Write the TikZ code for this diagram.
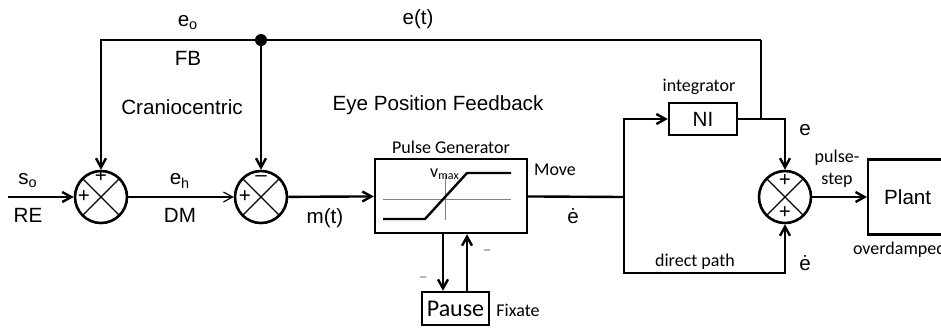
\documentclass[tikz,border=0pt]{standalone}
\usepackage{fontspec}
\setmainfont{Liberation Sans}
\newfontfamily\calibri{Carlito}
\usetikzlibrary{arrows.meta}

\tikzset{
  sumnode/.style={circle,draw,line width=1.3pt,minimum size=26pt,inner sep=0pt,
    path picture={\draw[line width=0.6pt]
      (path picture bounding box.north west) -- (path picture bounding box.south east)
      (path picture bounding box.north east) -- (path picture bounding box.south west);}},
  blockbox/.style={draw,line width=1.2pt,inner sep=0pt},
  sig/.style={line width=1.2pt},
  note/.style={font=\calibri\fontsize{9}{10}\selectfont},
}

\begin{document}
\begin{tikzpicture}[x=0.5pt,y=-0.5pt,font=\fontsize{10.3}{12}\selectfont,
    >={Straight Barb[length=4.5pt,width=5pt]}]
  \useasboundingbox (0,0) rectangle (941,329);
  % summing points
  \node[sumnode] (sA) at (101,197) {};
  \node[sumnode] (sB) at (261,197) {};
  \node[sumnode] (sC) at (785,197) {};
  \node (sAtop) at ([yshift=10pt]sA.center) {+};
  \node (sAleft) at ([xshift=-8.5pt]sA.center) {+};
  \node (sBtop) at ([yshift=9pt]sB.center) {\textendash};
  \node (sBleft) at ([xshift=-8pt]sB.center) {+};
  \node (sCtop) at ([yshift=8pt]sC.center) {+};
  \node (sCbot) at ([yshift=-8pt]sC.center) {+};
  % blocks
  \node[blockbox,minimum width=76pt,minimum height=37pt] (pg) at (451,196) {};
  \node[blockbox,minimum width=33.5pt,minimum height=16.5pt,
    font=\calibri\fontsize{12}{14}\selectfont] (pause) at (455.5,308.5) {Pause};
  \node[blockbox,minimum width=34pt,minimum height=16pt] (ni) at (703,119) {NI};
  \node[blockbox,anchor=west,minimum height=37.5pt,inner xsep=8pt,text width=40pt,
    align=left] (plant) at (867,197) {Plant};
  % saturation curve
  \draw[gray,line width=0.4pt] (383,199) -- (511,199) (445,175) -- (445,220);
  \draw[line width=1.2pt] (383,219) -- (425,219) -- (467,173) -- (511,173);
  \node[note] (vmax) at (445,174) {v\textsubscript{max}};
  % connectors
  \coordinate (in) at (8,197);
  \coordinate (dot) at (261,40);
  \coordinate (tr) at (761,40);
  \coordinate (br) at (624,197);
  \fill (dot) circle (3pt);
  \draw[sig,->] (in) -- (sA);
  \draw[->,line width=0.6pt] (sA) -- (sB);
  \draw[sig,->] (sB) -- (pg);
  \draw[sig] (pg) -- (br);
  \draw[sig,->] (br) |- (ni);
  \draw[sig,->] (br) -- ++(0,76) -| (sC);
  \draw[sig,->] (ni) -| (sC);
  \draw[sig] (tr |- ni.east) -- (tr);
  \draw[sig,->] (tr) -| (sA);
  \draw[sig,->] (dot) -- (sB);
  \draw[sig,->] (sC) -- (plant);
  \draw[sig,->] ([xshift=-4pt]pg.south) -- ([xshift=-4pt]pg.south |- pause.north);
  \draw[sig,->] ([xshift=8pt]pg.south |- pause.north) -- ([xshift=8pt]pg.south);
  % labels
  \node (eo) at (188,23) {e\textsubscript{o}};
  \node (fb) at (188,58) {FB};
  \node (cranio) at (182,107) {Craniocentric};
  \node (et) at (418,19) {e(t)};
  \node (epf) at (438,105) {Eye Position Feedback};
  \node (so) at (28,181) {s\textsubscript{o}};
  \node (re) at (28,215) {RE};
  \node (eh) at (180,181) {e\textsubscript{h}};
  \node (dm) at (180,215) {DM};
  \node (mt) at (325,218) {m(t)};
  \node[note] (pgname) at (451,147) {Pulse Generator};
  \node[note] (move) at (555,170) {Move};
  \node (edA) at (573,216) {\.{e}};
  \node[note,gray] (mA) at (423,280) {\textendash};
  \node[note,gray] (mB) at (487,253) {\textendash};
  \node[note] (fix) at (518,310) {Fixate};
  \node[note] (integ) at (699,87) {integrator};
  \node (e) at (805,130) {e};
  \node[note] (ps) at (837,158) {pulse-};
  \node[note] (st) at (837,180) {step};
  \node (edB) at (805,263) {\.{e}};
  \node[note] (dpath) at (695,262) {direct path};
  \node[note,anchor=west] (od) at (846,250) {overdamped};
\end{tikzpicture}
\end{document}
